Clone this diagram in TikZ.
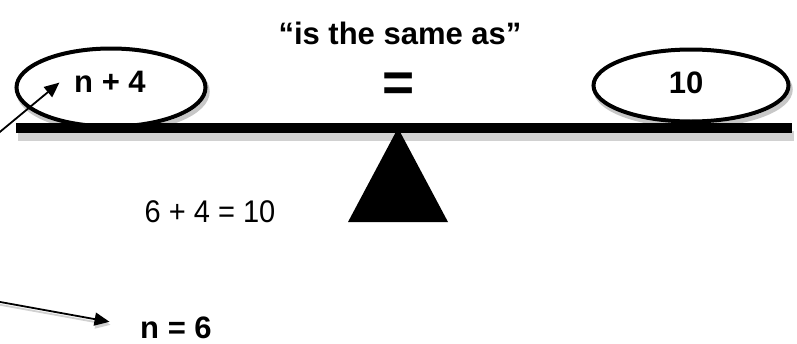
\documentclass[tikz,border=0pt]{standalone}
\usepackage{fontspec}
\setmainfont{Liberation Sans}
\usetikzlibrary{arrows.meta,shapes.geometric}
\begin{document}
\begin{tikzpicture}[x=1pt,y=-1pt,
  pan/.style={shape=ellipse, draw=black, line width=4pt, fill=white, inner sep=0pt},
  shadowpan/.style={draw=black!22, line width=4.5pt},
  boldlbl/.style={font=\fontsize{31}{36}\selectfont\bfseries, inner sep=0pt, anchor=base},
  ptr/.style={line width=1.8pt, -{Triangle[length=15pt,width=13pt]}},
  ptrshadow/.style={line width=1.8pt, draw=black!18, -{Triangle[length=15pt,width=13pt]}},
]
\useasboundingbox (0,0) rectangle (797,343);
% shadows
\fill[black!18] (18,131) rectangle (794,141);
\draw[shadowpan] (113,91.5) ellipse [x radius=94.5, y radius=39];
\draw[shadowpan] (693,89.5) ellipse [x radius=97.5, y radius=36];
% pans
\node[pan, minimum width=189pt, minimum height=78pt] (lpan) at (111,87.5) {};
\node[pan, minimum width=195pt, minimum height=72pt] (rpan) at (691,85.5) {};
% beam and fulcrum
\fill[black] (16,123) rectangle (792,133);
\fill[black] (398,128) -- (448,222) -- (348,222) -- cycle;
% texts
\node[boldlbl] (title) at (400,44) {“is the same as”};
\node[boldlbl] (n4) at (110,92) {n + 4};
\node[boldlbl] (ten) at (686,93) {10};
\node[font=\fontsize{55}{60}\selectfont\bfseries, inner sep=0pt] (eq) at (399,87) {=};
\node[font=\fontsize{29}{34}\selectfont, inner sep=0pt, anchor=base] (calc) at (210,222) {\scalebox{1}[1.08]{6 + 4 = 10}};
\node[boldlbl] (n6) at (176,338) {n = 6};
% arrows
\coordinate (t1) at (-2,133.5);
\coordinate (t2) at (-2,301.6);
\draw[ptrshadow, shorten >=31pt] ([shift={(1,3)}]t2) -- ([shift={(1,3)}]n6.west);
\draw[ptr, shorten >=19pt] (t1) -- (n4.north west);
\draw[ptr, shorten >=31pt] (t2) -- (n6.west);
\end{tikzpicture}
\end{document}
